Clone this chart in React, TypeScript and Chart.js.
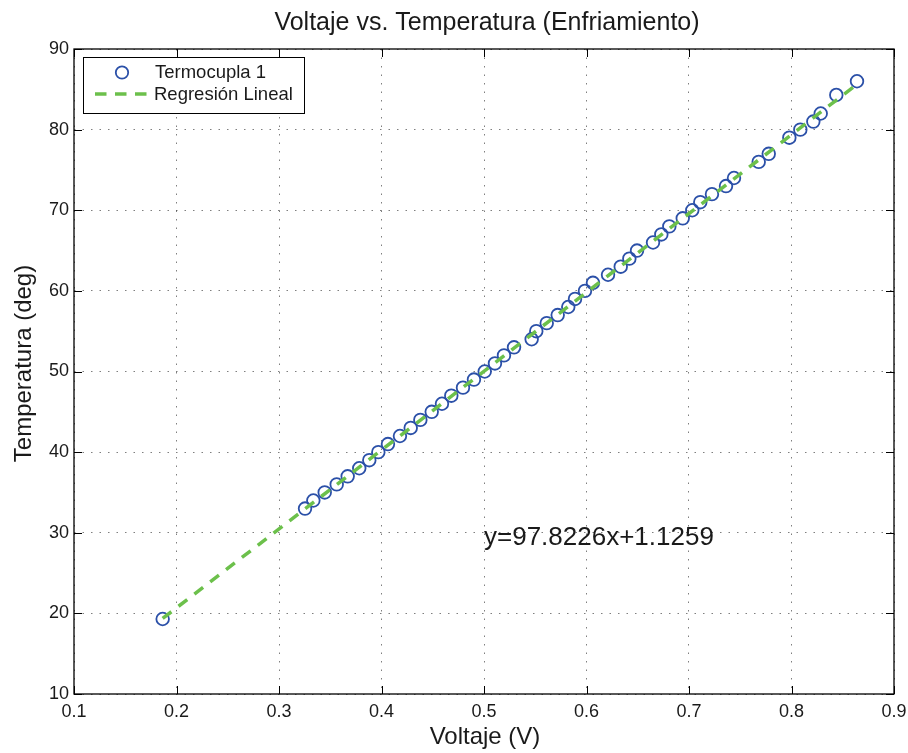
import React, { useEffect, useRef } from "react";
import { Chart, registerables } from "chart.js";

Chart.register(...registerables);

// ---- data ----
const voltage = [
  0.1865,
  0.3254, 0.3335, 0.3446, 0.3563, 0.367, 0.3783, 0.3881, 0.3969, 0.4063, 0.418,
  0.4285, 0.4379, 0.449, 0.459, 0.4681, 0.4795, 0.4902, 0.5007, 0.5107, 0.5195,
  0.5293, 0.5465, 0.551, 0.5612, 0.5719, 0.5822, 0.5888, 0.5985, 0.6063, 0.621,
  0.6334, 0.6418, 0.6493, 0.6649, 0.673, 0.6808, 0.6939, 0.7032, 0.711, 0.7224,
  0.7361, 0.7439,
  0.768, 0.7778, 0.7979, 0.8086, 0.8213, 0.8285, 0.8437, 0.8639,
];
const temperature = [
  19.3,
  33, 34, 35, 36, 37, 38, 39, 40, 41, 42,
  43, 44, 45, 46, 47, 48, 49, 50, 51, 52,
  53, 54, 55, 56, 57, 58, 59, 60, 61, 62,
  63, 64, 65, 66, 67, 68, 69, 70, 71, 72,
  73, 74,
  76, 77, 79, 80, 81, 82, 84.3, 86,
];
const regVoltage = [0.1865, 0.8639];
const regTemperature = [19.37, 85.63];
const xTicks = [0.1, 0.2, 0.3, 0.4, 0.5, 0.6, 0.7, 0.8, 0.9];
const yTicks = [10, 20, 30, 40, 50, 60, 70, 80, 90];

const titleText = "Voltaje vs. Temperatura (Enfriamiento)";
const xLabel = "Voltaje (V)";
const yLabel = "Temperatura (deg)";
const seriesName = "Termocupla 1";
const regName = "Regresión Lineal";
const equationText = "y=97.8226x+1.1259";
const equationAt = { x: 0.5, y: 29.5 };

const FONT = '"Liberation Sans", Arial, Helvetica, sans-serif';
const BLUE = "#2b50a8";
const GREEN = "#6cc04b";
const TEXT = "#1a1a1a";

const decorPlugin = {
  id: "decor",
  afterDraw(chart: any) {
    const ctx = chart.ctx as CanvasRenderingContext2D;
    const { left, right, top, bottom } = chart.chartArea;
    const xs = chart.scales.x;
    const ys = chart.scales.y;
    ctx.save();

    // inward ticks
    ctx.strokeStyle = "#000";
    ctx.lineWidth = 1;
    ctx.beginPath();
    const tl = 8;
    xTicks.forEach((v) => {
      const px = Math.round(xs.getPixelForValue(v)) + 0.5;
      ctx.moveTo(px, bottom);
      ctx.lineTo(px, bottom - tl);
      ctx.moveTo(px, top);
      ctx.lineTo(px, top + tl);
    });
    yTicks.forEach((v) => {
      const py = Math.round(ys.getPixelForValue(v)) + 0.5;
      ctx.moveTo(left, py);
      ctx.lineTo(left + tl, py);
      ctx.moveTo(right, py);
      ctx.lineTo(right - tl, py);
    });
    ctx.stroke();

    // border
    ctx.lineWidth = 1.3;
    ctx.strokeRect(left, top, right - left, bottom - top);

    // title
    ctx.fillStyle = TEXT;
    ctx.textAlign = "center";
    ctx.textBaseline = "middle";
    ctx.font = `25px ${FONT}`;
    ctx.fillText(titleText, (left + right) / 2 + 3, 23);

    // x label
    ctx.font = `24px ${FONT}`;
    ctx.fillText(xLabel, (left + right) / 2 + 1, 737);

    // y label
    ctx.save();
    ctx.translate(24, (top + bottom) / 2 - 8);
    ctx.rotate(-Math.PI / 2);
    ctx.fillText(yLabel, 0, 0);
    ctx.restore();

    // equation
    ctx.textAlign = "left";
    ctx.font = `26px ${FONT}`;
    ctx.fillText(
      equationText,
      xs.getPixelForValue(equationAt.x),
      ys.getPixelForValue(equationAt.y) + 1
    );

    // legend
    const lx = left + 9;
    const ly = top + 8;
    const lw = 221;
    const lh = 56;
    ctx.fillStyle = "#fff";
    ctx.fillRect(lx, ly, lw, lh);
    ctx.strokeStyle = "#000";
    ctx.lineWidth = 1;
    ctx.strokeRect(lx + 0.5, ly + 0.5, lw, lh);

    ctx.strokeStyle = BLUE;
    ctx.lineWidth = 1.8;
    ctx.beginPath();
    ctx.arc(lx + 39, ly + 15.5, 6.2, 0, Math.PI * 2);
    ctx.stroke();

    ctx.strokeStyle = GREEN;
    ctx.lineWidth = 3.5;
    ctx.setLineDash([11.5, 8.5]);
    ctx.beginPath();
    ctx.moveTo(lx + 12, ly + 37);
    ctx.lineTo(lx + 65, ly + 37);
    ctx.stroke();
    ctx.setLineDash([]);

    ctx.fillStyle = TEXT;
    ctx.font = `18.5px ${FONT}`;
    ctx.textBaseline = "middle";
    ctx.fillText(seriesName, lx + 72, ly + 16);
    ctx.fillText(regName, lx + 71, ly + 38);

    ctx.restore();
  },
};

export default function App() {
  const ref = useRef<HTMLCanvasElement | null>(null);

  useEffect(() => {
    if (!ref.current) return;
    const gridStyle = {
      color: "rgba(0,0,0,0.5)",
      lineWidth: 1,
      drawTicks: false,
    };
    const chart = new Chart(ref.current, {
      type: "scatter",
      data: {
        datasets: [
          {
            type: "line",
            label: regName,
            data: regVoltage.map((v, i) => ({ x: v, y: regTemperature[i] })),
            borderColor: GREEN,
            borderWidth: 3.5,
            borderDash: [11, 9],
            pointRadius: 0,
            showLine: true,
            fill: false,
            order: 0,
          } as any,
          {
            label: seriesName,
            data: voltage.map((v, i) => ({ x: v, y: temperature[i] })),
            borderColor: BLUE,
            backgroundColor: "rgba(0,0,0,0)",
            borderWidth: 1.8,
            pointRadius: 6.3,
            pointStyle: "circle",
            showLine: false,
            order: 1,
          },
        ],
      },
      options: {
        animation: false,
        responsive: false,
        events: [],
        layout: { padding: { top: 49, right: 14, left: 0, bottom: 0 } },
        plugins: {
          legend: { display: false },
          title: { display: false },
          tooltip: { enabled: false },
        },
        scales: {
          x: {
            type: "linear",
            min: 0.1,
            max: 0.9,
            afterBuildTicks: (s: any) => {
              s.ticks = xTicks.map((v) => ({ value: v }));
            },
            afterFit: (s: any) => {
              s.height = 59;
              s.paddingRight = 0;
              s.paddingLeft = 0;
            },
            ticks: {
              padding: 7,
              color: TEXT,
              font: { family: FONT, size: 18 },
              maxRotation: 0,
              autoSkip: false,
              callback: (v: any) => Number(v).toFixed(1),
            },
            grid: gridStyle as any,
            border: { display: false, dash: [1.5, 7] },
          },
          y: {
            type: "linear",
            min: 10,
            max: 90,
            afterBuildTicks: (s: any) => {
              s.ticks = yTicks.map((v) => ({ value: v }));
            },
            afterFit: (s: any) => {
              s.width = 74;
              s.paddingTop = 0;
              s.paddingBottom = 0;
            },
            ticks: {
              padding: 5,
              color: TEXT,
              font: { family: FONT, size: 18 },
              autoSkip: false,
              callback: (v: any) => String(v),
            },
            grid: gridStyle as any,
            border: { display: false, dash: [1.5, 7] },
          },
        },
      },
      plugins: [decorPlugin],
    } as any);
    return () => chart.destroy();
  }, []);

  return (
    <div style={{ position: "absolute", left: 0, top: 0, width: 908, height: 753, background: "#fff" }}>
      <canvas ref={ref} width={908} height={753} style={{ display: "block" }} />
    </div>
  );
}
